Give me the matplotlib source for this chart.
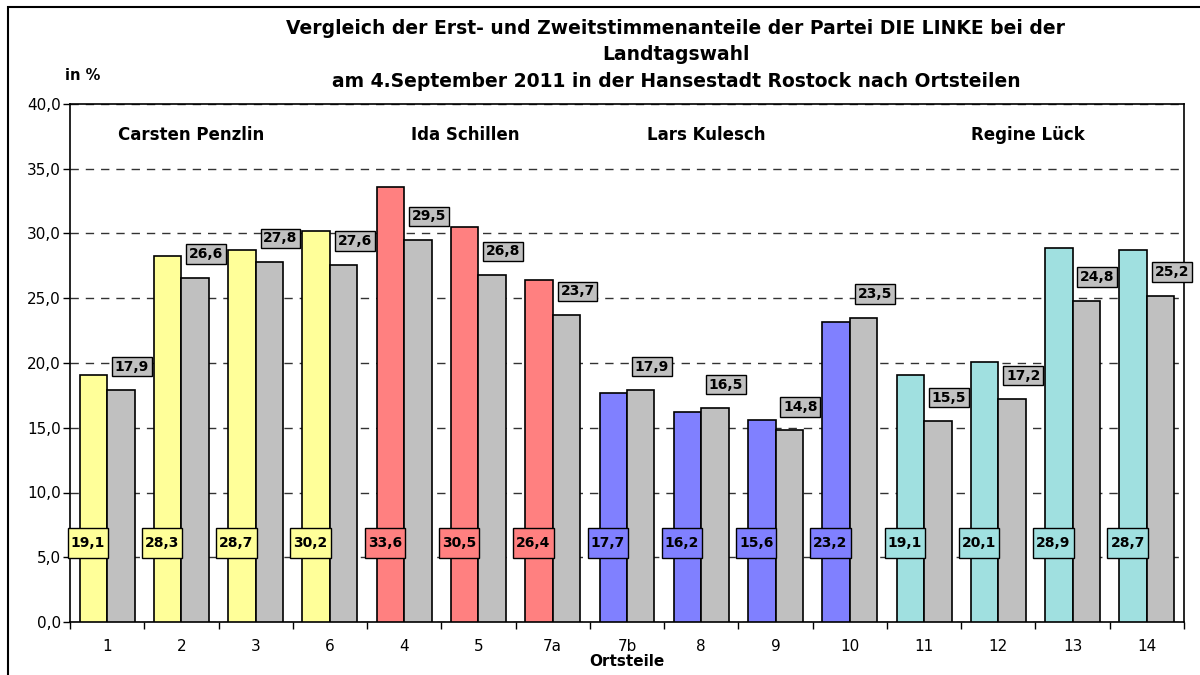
import numpy as np
import matplotlib
matplotlib.use("Agg")
import matplotlib.pyplot as plt
from matplotlib.patches import Rectangle

plt.rcParams['font.family'] = ['DejaVu Sans']

# data
ortsteile = ['1', '2', '3', '6', '4', '5', '7a', '7b', '8', '9', '10', '11', '12', '13', '14']
erststimmen = [19.1, 28.3, 28.7, 30.2, 33.6, 30.5, 26.4, 17.7, 16.2, 15.6, 23.2, 19.1, 20.1, 28.9, 28.7]
zweitstimmen = [17.9, 26.6, 27.8, 27.6, 29.5, 26.8, 23.7, 17.9, 16.5, 14.8, 23.5, 15.5, 17.2, 24.8, 25.2]
kandidaten = ['Carsten Penzlin', 'Ida Schillen', 'Lars Kulesch', 'Regine Lück']
# number of Ortsteile per candidate, in order
kandidat_anzahl = [4, 3, 4, 4]
kandidat_farben = ['#FFFF99', '#FF8080', '#8080FF', '#A0E0E0']
kandidat_x = [1.13, 4.82, 8.07, 12.4]

fig = plt.figure(figsize=(12, 6.75), dpi=100)
ax = fig.add_axes([70 / 1200, 1 - 622 / 675, 1114 / 1200, 518 / 675])

# outer frame of the chart object
fig.patches.append(Rectangle((8 / 1200, -0.1), 1.2, 1.1 - 7 / 675, transform=fig.transFigure,
                             fill=False, edgecolor='black', linewidth=1.5))

farben = []
for f, n in zip(kandidat_farben, kandidat_anzahl):
    farben += [f] * n

x = np.arange(len(ortsteile))
w = 0.37
ax.bar(x - w / 2, erststimmen, w, color=farben, edgecolor='black', linewidth=1.2, zorder=3)
ax.bar(x + w / 2, zweitstimmen, w, color='#C0C0C0', edgecolor='black', linewidth=1.2, zorder=3)

def fmt(v):
    return f'{v:.1f}'.replace('.', ',')

for i in range(len(ortsteile)):
    # first-vote labels sit low on the bar, taller box
    ax.annotate(fmt(erststimmen[i]), (x[i] - w / 2, 6.1), xytext=(-4, 0), textcoords='offset points',
                ha='center', va='center', fontsize=10, fontweight='bold', zorder=5,
                bbox=dict(boxstyle='square,pad=0.22', mutation_aspect=2.6,
                          fc=farben[i], ec='black', lw=1))
    ax.annotate(fmt(zweitstimmen[i]), (x[i] + w / 2, zweitstimmen[i]), xytext=(8, 17),
                textcoords='offset points', ha='center', va='center', fontsize=10,
                fontweight='bold', zorder=5,
                bbox=dict(boxstyle='square,pad=0.2', fc='#C0C0C0', ec='black', lw=1))

for name, kx in zip(kandidaten, kandidat_x):
    ax.text(kx, 37.6, name, ha='center', va='center', fontsize=12, fontweight='bold')

ax.set_xlim(-0.5, len(ortsteile) - 0.5)
ax.set_ylim(0, 40)
ax.set_yticks(np.arange(0, 41, 5))
ax.set_yticklabels([fmt(v) for v in np.arange(0, 41, 5)], fontsize=11)
ax.set_xticks(x)
ax.set_xticklabels(ortsteile, fontsize=11)
ax.set_xticks(np.arange(-0.5, len(ortsteile)), minor=True)
ax.tick_params(axis='x', which='major', length=0, pad=12)
ax.tick_params(axis='x', which='minor', length=5, direction='out', width=1)
ax.tick_params(axis='y', length=5, direction='out', width=1, pad=1.5)
ax.yaxis.grid(True, linestyle=(0, (6, 5)), color='#333333', linewidth=1, zorder=0)
for s in ax.spines.values():
    s.set_linewidth(1.2)

ax.set_xlabel('Ortsteile', fontsize=11, fontweight='bold', labelpad=0)
fig.text(65 / 1200, 1 - 75 / 675, 'in %', fontsize=10.5, fontweight='bold', va='center')
fig.text(676 / 1200, 1 - 55 / 675,
         'Vergleich der Erst- und Zweitstimmenanteile der Partei DIE LINKE bei der\n'
         'Landtagswahl\n'
         'am 4.September 2011 in der Hansestadt Rostock nach Ortsteilen',
         ha='center', va='center', fontsize=13.5, fontweight='bold', linespacing=1.5)

fig.savefig('out.png', dpi=100)
